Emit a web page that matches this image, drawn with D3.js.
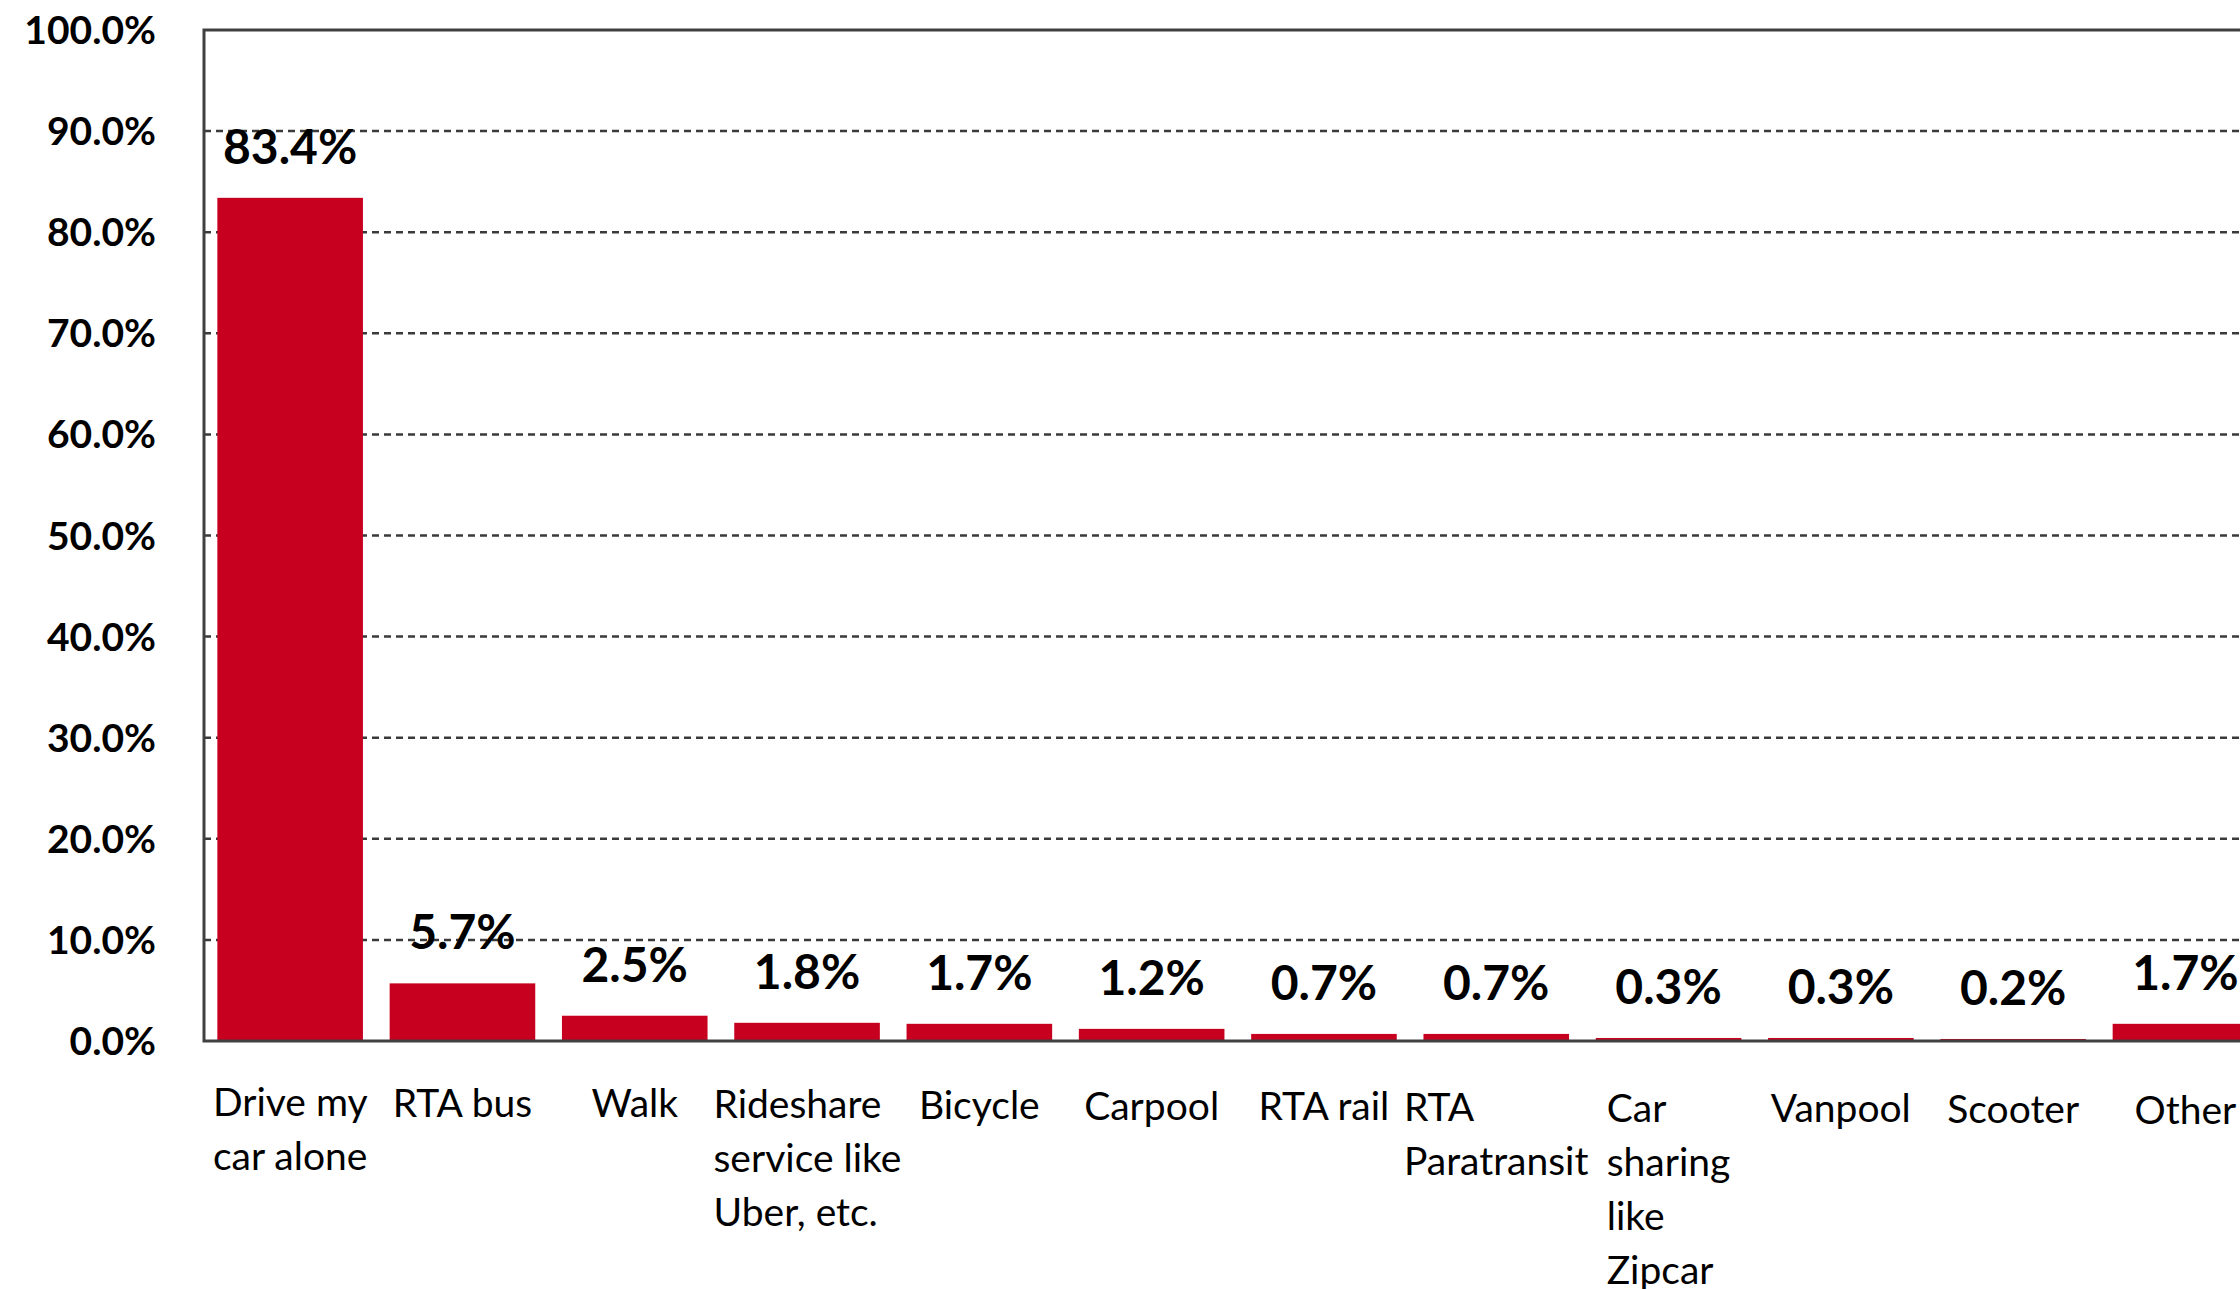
<!DOCTYPE html>
<html>
<head>
<meta charset="utf-8">
<script src="https://cdn.jsdelivr.net/npm/d3@7"></script>
<style>
  html, body { margin: 0; padding: 0; background: #fff; overflow: hidden; }
  text { font-family: Lato, "Open Sans", sans-serif; fill: #000; }
</style>
</head>
<body>
<svg width="2240" height="1289"></svg>
<script>
// Data
const categories = [
  ["Drive my", "car alone"],
  ["RTA bus"],
  ["Walk"],
  ["Rideshare", "service like", "Uber, etc."],
  ["Bicycle"],
  ["Carpool"],
  ["RTA rail"],
  ["RTA", "Paratransit"],
  ["Car", "sharing", "like", "Zipcar"],
  ["Vanpool"],
  ["Scooter"],
  ["Other"]
];
const values = [83.4, 5.7, 2.5, 1.8, 1.7, 1.2, 0.7, 0.7, 0.3, 0.3, 0.2, 1.7];
const yTicks = [0, 10, 20, 30, 40, 50, 60, 70, 80, 90, 100];

const svg = d3.select("svg");

// plot area (the right side runs past the window, like the original)
const plotLeft = 204, plotTop = 30, plotBottom = 1041;
const step = 172.3;
const plotRight = plotLeft + step * values.length;

const x = d3.scaleBand()
  .domain(d3.range(values.length))
  .range([plotLeft, plotRight])
  .paddingInner(0.155)
  .paddingOuter(0.0775);

const y = d3.scaleLinear().domain([0, 100]).range([plotBottom, plotTop]);

// dashed gridlines
svg.append("g")
  .selectAll("line")
  .data(yTicks.filter(d => d > 0 && d < 100))
  .enter()
  .append("line")
  .attr("x1", plotLeft)
  .attr("x2", plotRight)
  .attr("y1", d => y(d))
  .attr("y2", d => y(d))
  .attr("stroke", "#3a3a3a")
  .attr("stroke-width", 2.5)
  .attr("stroke-dasharray", "7,5");

// bars
svg.append("g")
  .selectAll("rect")
  .data(values)
  .enter()
  .append("rect")
  .attr("x", (d, i) => x(i))
  .attr("y", d => y(d))
  .attr("width", x.bandwidth())
  .attr("height", d => plotBottom - y(d))
  .attr("fill", "#c8001f");

// plot frame: top, left, bottom
svg.append("path")
  .attr("d", `M${plotRight},${plotTop}H${plotLeft}V${plotBottom}H${plotRight}`)
  .attr("fill", "none")
  .attr("stroke", "#404040")
  .attr("stroke-width", 3);

// y tick labels
svg.append("g")
  .selectAll("text")
  .data(yTicks)
  .enter()
  .append("text")
  .attr("x", 156)
  .attr("y", d => y(d) + 14)
  .attr("text-anchor", "end")
  .attr("font-size", 39)
  .attr("font-weight", "bold")
  .text(d => d3.format(".1f")(d) + "%");

// value labels above bars
svg.append("g")
  .selectAll("text")
  .data(values)
  .enter()
  .append("text")
  .attr("x", (d, i) => x(i) + x.bandwidth() / 2)
  .attr("y", d => y(d) - 34)
  .attr("text-anchor", "middle")
  .attr("font-size", 48)
  .attr("font-weight", "bold")
  .text(d => d3.format(".1f")(d) + "%");

// category labels: block of left-aligned lines, centred under the bar
const catG = svg.append("g");
categories.forEach((lines, i) => {
  const t = catG.append("text")
    .attr("font-size", 39)
    .attr("y", 1116 + i * 0.7);
  lines.forEach((line, j) => {
    t.append("tspan")
      .attr("dy", j === 0 ? 0 : 54)
      .text(line);
  });
  const w = d3.max(t.selectAll("tspan").nodes(), n => n.getComputedTextLength());
  const x0 = x(i) + x.bandwidth() / 2 - w / 2;
  t.attr("x", x0);
  t.selectAll("tspan").attr("x", x0);
});
</script>
</body>
</html>
